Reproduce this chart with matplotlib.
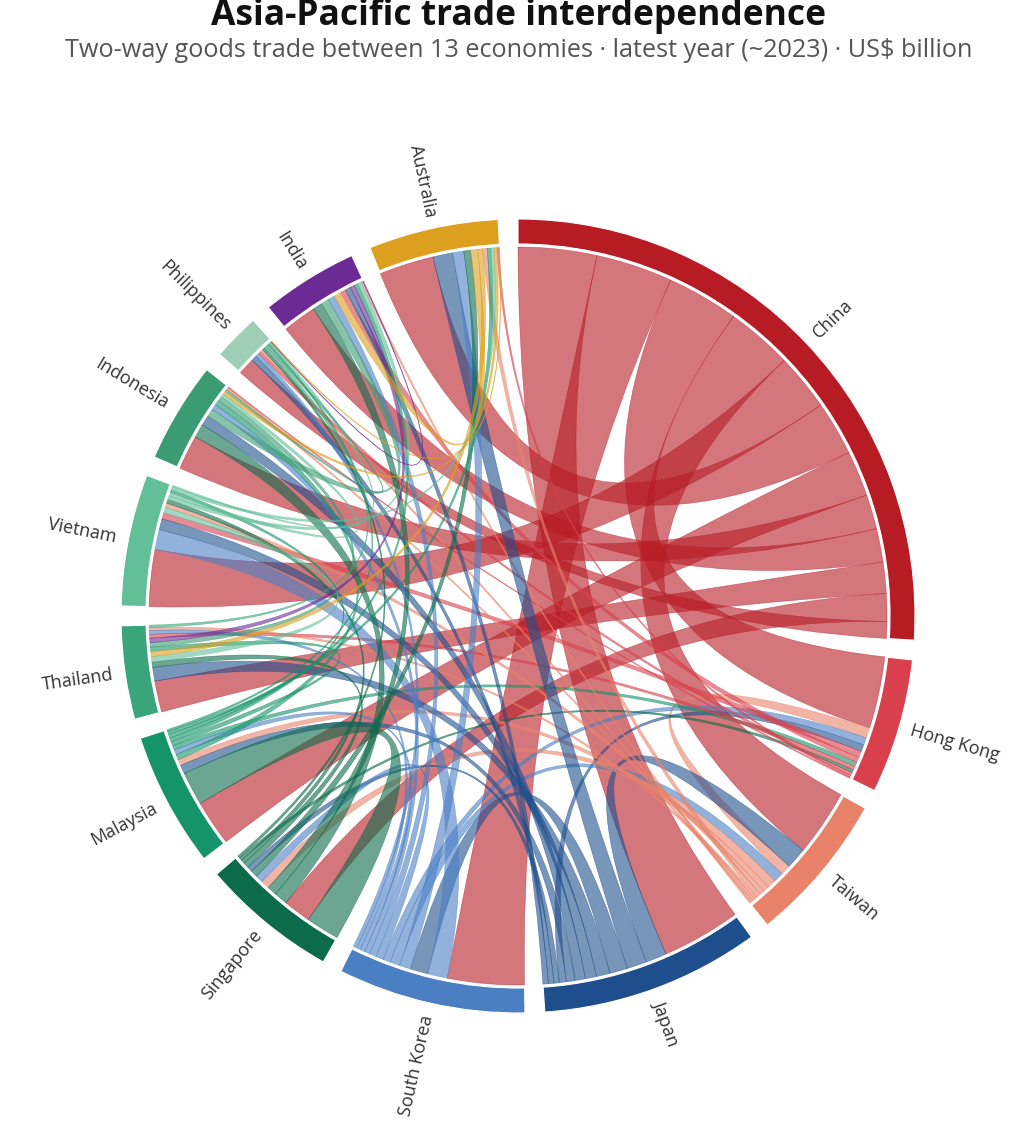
import numpy as np
import matplotlib
matplotlib.use("Agg")
import matplotlib.pyplot as plt
from matplotlib.path import Path
from matplotlib.patches import PathPatch, Wedge
from matplotlib.colors import to_rgba

plt.rcParams['font.family'] = ['Open Sans', 'DejaVu Sans']

# ---------------- data ----------------
economies = ["China", "Hong Kong", "Taiwan", "Japan", "South Korea", "Singapore",
             "Malaysia", "Thailand", "Vietnam", "Indonesia", "Philippines", "India", "Australia"]
colors = ["#b71c25", "#d9404d", "#e8836a", "#1f4e8c", "#4a7fc4", "#0b6b4a",
          "#15946a", "#3aa57a", "#62bf98", "#3b9b73", "#9ecfb6", "#6b2a94", "#dc9f1e"]

# two-way goods trade, US$ billion (upper triangle pairs)
china_row       = [290, 268, 318, 310, 112, 185, 126, 230, 139, 68, 136, 220]
hongkong_row    = [42, 28, 30, 12, 18, 15, 25, 5, 12, 22, 8]
taiwan_row      = [85, 40, 35, 25, 12, 18, 8, 10, 8, 18]
japan_row       = [72, 22, 35, 55, 45, 42, 22, 22, 80]
southkorea_row  = [30, 20, 15, 80, 22, 15, 28, 45]
singapore_row   = [135, 22, 16, 55, 10, 38, 28]
malaysia_row    = [18, 12, 22, 8, 15, 15]
thailand_row    = [22, 18, 10, 18, 20]
vietnam_row     = [14, 7, 15, 12]
indonesia_row   = [10, 32, 12]
philippines_row = [3, 3]
india_row       = [28]

title = "Asia-Pacific trade interdependence"
subtitle = "Two-way goods trade between 13 economies \u00b7 latest year (~2023) \u00b7 US$ billion"

rows = [china_row, hongkong_row, taiwan_row, japan_row, southkorea_row, singapore_row,
        malaysia_row, thailand_row, vietnam_row, indonesia_row, philippines_row, india_row]

n = len(economies)
M = np.zeros((n, n))
for i, r in enumerate(rows):
    for k, v in enumerate(r):
        j = i + 1 + k
        M[i, j] = v
        M[j, i] = v

# ---------------- chord layout ----------------
pad = 0.05
totals = M.sum(axis=1)
kscale = (2 * np.pi - pad * n) / totals.sum()
groups = []
sub = {}
x = 0.0
for i in range(n):
    x0 = x
    order = np.argsort(-M[i], kind="stable")
    for j in order:
        w = M[i, j] * kscale
        sub[(i, j)] = (x, x + w)
        x += w
    groups.append((x0, x))
    x += pad

R_RIB = 369
R_IN = 372
R_OUT = 397
R_LAB = 409


def pt(r, a):
    return (r * np.sin(a), r * np.cos(a))


def arc_pts(r, a0, a1, m=60):
    t = np.linspace(a0, a1, m)
    return [pt(r, a) for a in t]


def ribbon_path(s0, s1, t0, t1, r):
    verts, codes = [], []
    a = arc_pts(r, s0, s1)
    verts += a
    codes += [Path.MOVETO] + [Path.LINETO] * (len(a) - 1)
    verts += [(0, 0), pt(r, t0)]
    codes += [Path.CURVE3, Path.CURVE3]
    b = arc_pts(r, t0, t1)
    verts += b[1:]
    codes += [Path.LINETO] * (len(b) - 1)
    verts += [(0, 0), pt(r, s0)]
    codes += [Path.CURVE3, Path.CURVE3]
    verts.append(pt(r, s0))
    codes.append(Path.CLOSEPOLY)
    return Path(verts, codes)


# ---------------- figure ----------------
W, H = 1024, 1122
cx, cy = 518, 616
fig = plt.figure(figsize=(W / 100, H / 100), dpi=100)
ax = fig.add_axes([0, 0, 1, 1])
ax.set_xlim(-cx, W - cx)
ax.set_ylim(-(H - cy), cy)
ax.set_aspect("equal")
ax.axis("off")

# ribbons
for i in range(n):
    for j in range(i + 1, n):
        if M[i, j] <= 0:
            continue
        s0, s1 = sub[(i, j)]
        t0, t1 = sub[(j, i)]
        src = i if totals[i] >= totals[j] else j
        col = colors[src]
        p = ribbon_path(s0, s1, t0, t1, R_RIB)
        ax.add_patch(PathPatch(p, facecolor=to_rgba(col, 0.6),
                               edgecolor=to_rgba(col, 0.6), lw=0.4, zorder=2))

# group rings + labels
for i, (a0, a1) in enumerate(groups):
    ax.add_patch(Wedge((0, 0), R_OUT, 90 - np.degrees(a1), 90 - np.degrees(a0),
                       width=R_OUT - R_IN, facecolor=colors[i], edgecolor="white",
                       lw=0.8, zorder=3))
    am = (a0 + a1) / 2
    deg = np.degrees(am)
    lx, ly = pt(R_LAB, am)
    if am <= np.pi:
        rot, ha = 90 - deg, "left"
    else:
        rot, ha = 270 - deg, "right"
    ax.text(lx, ly, economies[i], rotation=rot, ha=ha, va="center",
            rotation_mode="anchor", fontsize=13, color="#333333", zorder=4)

fig.text(0.506, 1 - 25 / H, title, ha="center", va="baseline", fontsize=25.5,
         fontweight="bold", color="#111111")
fig.text(0.507, 1 - 57 / H, subtitle, ha="center", va="baseline", fontsize=18.2,
         color="#555555")

fig.savefig("out.png", dpi=100)
